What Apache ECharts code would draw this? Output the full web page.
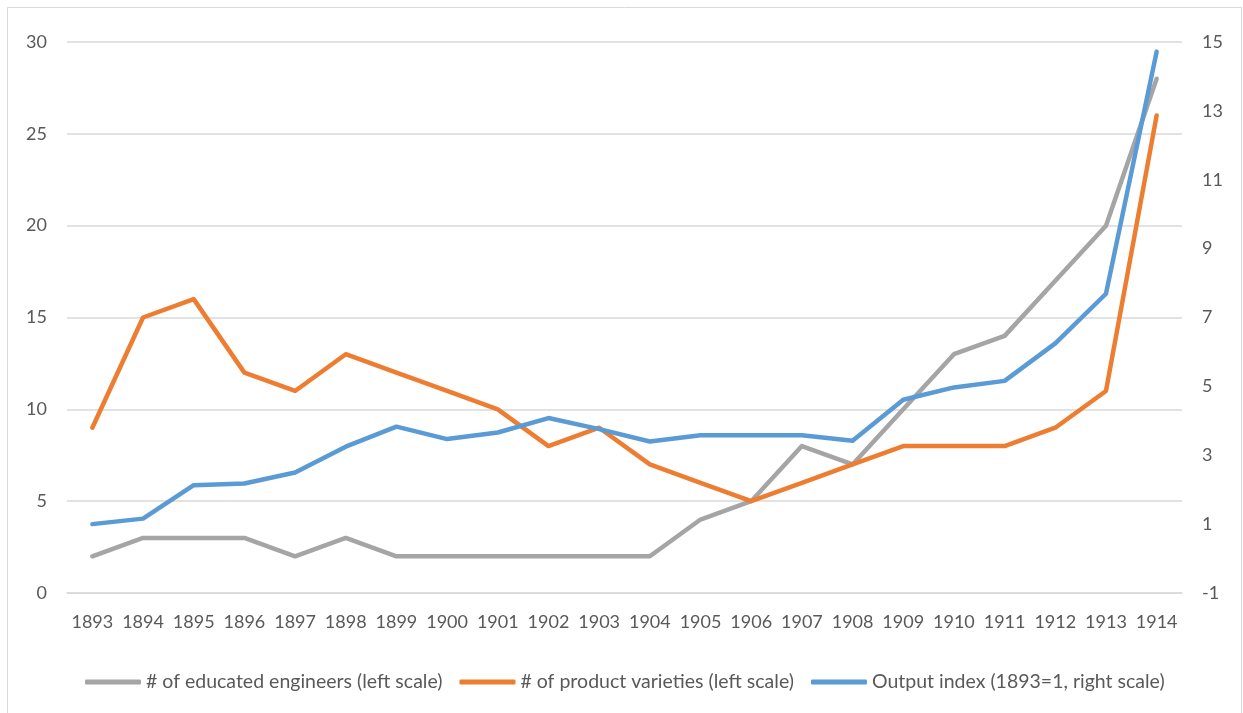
<!DOCTYPE html>
<html>
<head>
<meta charset="utf-8">
<script src="https://cdn.jsdelivr.net/npm/echarts@6/dist/echarts.min.js"></script>
<style>
html,body{margin:0;padding:0;background:#fff;}
#chart{width:1243px;height:713px;}
</style>
</head>
<body>
<div id="chart"></div>
<script>
const years = ['1893','1894','1895','1896','1897','1898','1899','1900','1901','1902','1903','1904','1905','1906','1907','1908','1909','1910','1911','1912','1913','1914'];
const engineers = [2,3,3,3,2,3,2,2,2,2,2,2,4,5,8,7,10,13,14,17,20,28];
const varieties = [9,15,16,12,11,13,12,11,10,8,9,7,6,5,6,7,8,8,8,9,11,26];
const outputIndex = [1.0,1.16,2.13,2.18,2.5,3.25,3.83,3.47,3.66,4.08,3.76,3.4,3.58,3.58,3.58,3.42,4.61,4.97,5.16,6.25,7.69,14.72];
const seriesNames = ['# of educated engineers (left scale)','# of product varieties (left scale)','Output index (1893=1, right scale)'];

const FONT = 'Lato';
const TXT = '#595959';
const chart = echarts.init(document.getElementById('chart'), null, {renderer:'canvas'});
const lineStyle = (c) => ({color:c, width:4.5, cap:'round', join:'round'});
chart.setOption({
  animation:false,
  backgroundColor:'#fff',
  graphic:[{type:'rect', shape:{x:7.5,y:7.5,width:1234,height:720}, style:{fill:'none',stroke:'#D9D9D9',lineWidth:1}, silent:true}],
  grid:{left:67,right:61,top:42,bottom:120,containLabel:false},
  legend:{
    top:665, left:80, itemGap:17, itemWidth:56, itemHeight:5, icon:'roundRect',
    textStyle:{color:TXT,fontFamily:FONT,fontSize:19.5,lineHeight:24},
    data:seriesNames
  },
  xAxis:{
    type:'category', data:years, boundaryGap:true,
    axisLine:{show:true,lineStyle:{color:'#D9D9D9',width:1.5}},
    axisTick:{show:false},
    axisLabel:{color:TXT,fontFamily:FONT,fontSize:18,margin:20,interval:0}
  },
  yAxis:[
    {type:'value',min:0,max:30,interval:5,
     axisLine:{show:false},axisTick:{show:false},
     axisLabel:{color:TXT,fontFamily:FONT,fontSize:18,margin:20},
     splitLine:{lineStyle:{color:'#D9D9D9',width:1.5}}},
    {type:'value',min:-1,max:15,interval:2,position:'right',
     axisLine:{show:false},axisTick:{show:false},
     axisLabel:{color:TXT,fontFamily:FONT,fontSize:18,margin:20},
     splitLine:{show:false}}
  ],
  series:[
    {name:seriesNames[0],type:'line',yAxisIndex:0,data:engineers,showSymbol:false,symbol:'none',lineStyle:lineStyle('#A5A5A5'),itemStyle:{color:'#A5A5A5'}},
    {name:seriesNames[1],type:'line',yAxisIndex:0,data:varieties,showSymbol:false,symbol:'none',lineStyle:lineStyle('#ED7D31'),itemStyle:{color:'#ED7D31'}},
    {name:seriesNames[2],type:'line',yAxisIndex:1,data:outputIndex,showSymbol:false,symbol:'none',lineStyle:lineStyle('#5B9BD5'),itemStyle:{color:'#5B9BD5'}}
  ]
});
</script>
</body>
</html>
